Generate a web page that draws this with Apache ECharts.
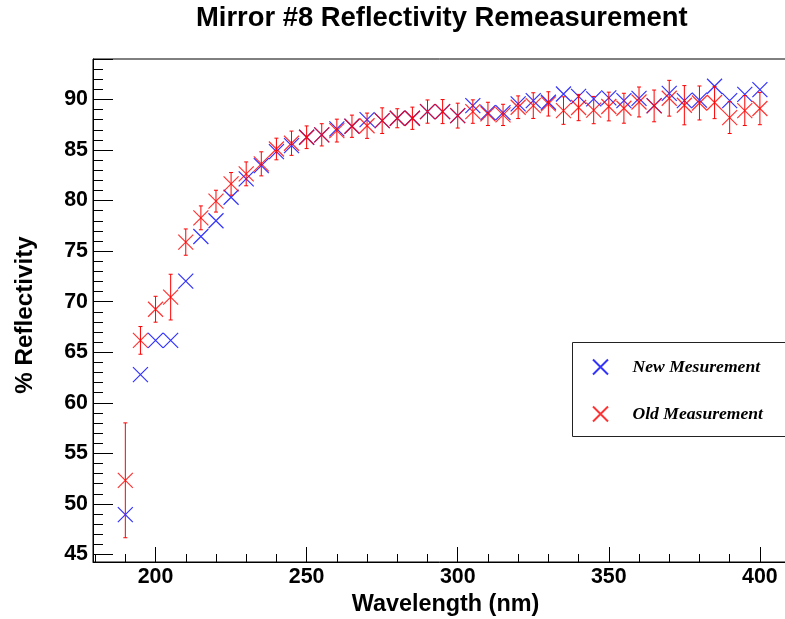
<!DOCTYPE html>
<html>
<head>
<meta charset="utf-8">
<script src="https://cdn.jsdelivr.net/npm/echarts@6/dist/echarts.min.js"></script>
<style>
  html, body { margin: 0; padding: 0; background: #fff; }
  #chart { width: 785px; height: 619px; }
</style>
</head>
<body>
<div id="chart"></div>
<script>
// wavelength in nm, one point every 5 nm
const wavelength = [190, 195, 200, 205, 210, 215, 220, 225, 230, 235, 240, 245, 250, 255, 260, 265, 270, 275, 280, 285, 290, 295,
  300, 305, 310, 315, 320, 325, 330, 335, 340, 345, 350, 355, 360, 365, 370, 375, 380, 385, 390, 395, 400];

// new measurement (blue)
const newRefl = [48.94, 62.78, 66.17, 66.17, 72.03, 76.44, 78.0, 80.33, 82.14, 83.46, 84.84, 85.43, 86.26, 86.5, 87.09, 87.35, 88.0, 87.9, 88.14, 88.14, 88.8, 88.8,
  88.4, 89.39, 88.7, 88.7, 89.56, 89.88, 89.72, 90.54, 90.3, 90.05, 90.15, 89.88, 90.1, 89.39, 90.6, 89.88, 89.93, 91.3, 89.88, 90.5, 90.97];

// old measurement (red) and its errors
const oldRefl = [52.33, 66.17, 69.25, 70.45, 75.89, 78.29, 79.94, 81.65, 82.64, 83.63, 85.1, 85.67, 86.26, 86.5, 86.92, 87.35, 87.4, 87.9, 88.14, 88.14, 88.8, 88.8,
  88.4, 88.8, 88.57, 88.47, 89.23, 89.39, 89.56, 88.9, 89.2, 88.95, 89.3, 89.13, 89.75, 89.36, 90.12, 89.43, 89.65, 89.7, 88.2, 88.9, 89.1];
const oldErr = [5.68, 1.37, 1.28, 2.26, 1.3, 1.18, 1.08, 1.12, 1.18, 1.19, 1.07, 1.2, 1.12, 1.1, 1.13, 1.1, 1.25, 1.27, 0.94, 1.1, 1.15, 1.19,
  1.23, 1.16, 1.15, 1.05, 1.12, 1.27, 1.2, 1.36, 1.3, 1.35, 1.42, 1.48, 1.48, 1.57, 1.77, 1.94, 1.68, 1.6, 1.57, 1.48, 1.6];

const seriesNames = ["New Mesurement", "Old Measurement"];

const chart = echarts.init(document.getElementById("chart"));

const crossPath = "path://M0,0L10,10M0,10L10,0";
const axisFont = { fontFamily: "Liberation Sans", fontWeight: "bold", color: "#000" };

// vertical error bar with small caps
const renderErrorBar = (params, api) => {
  const x = api.value(0);
  const y = api.value(1);
  const e = api.value(2);
  const top = api.coord([x, y + e]);
  const bot = api.coord([x, y - e]);
  const cap = 2;
  const style = { stroke: "#ff0000", lineWidth: 1 };
  return {
    type: "group",
    children: [
      { type: "line", shape: { x1: top[0], y1: top[1], x2: bot[0], y2: bot[1] }, style },
      { type: "line", shape: { x1: top[0] - cap, y1: top[1], x2: top[0] + cap, y2: top[1] }, style },
      { type: "line", shape: { x1: bot[0] - cap, y1: bot[1], x2: bot[0] + cap, y2: bot[1] }, style },
    ],
  };
};

const option = {
  animation: false,
  backgroundColor: "#fff",
  title: {
    text: "Mirror #8 Reflectivity Remeasurement",
    left: 191,
    top: 0,
    textStyle: { ...axisFont, fontSize: 27.4 },
  },
  // legend frame drawn separately so the icon can sit inside it
  graphic: [
    {
      type: "rect",
      shape: { x: 572.5, y: 342.5, width: 240, height: 94 },
      style: { fill: "#fff", stroke: "#222", lineWidth: 1 },
      z: 5,
    },
  ],
  legend: {
    data: seriesNames,
    orient: "vertical",
    left: 592,
    top: 357,
    padding: 0,
    itemGap: 27,
    itemWidth: 54,
    itemHeight: 15,
    z: 6,
    textStyle: {
      fontFamily: "Liberation Serif",
      fontStyle: "italic",
      fontWeight: "bold",
      fontSize: 17.6,
      lineHeight: 20,
      color: "#000",
    },
  },
  grid: {
    left: 93,
    top: 59,
    right: -3,
    bottom: 57,
    outerBoundsMode: "none",
    show: true,
    borderColor: "#000",
    borderWidth: 1,
  },
  xAxis: {
    type: "value",
    min: 179.3,
    max: 409.3,
    splitNumber: 5,
    minInterval: 50,
    maxInterval: 50,
    name: "Wavelength (nm)",
    nameLocation: "middle",
    nameGap: 31,
    nameTextStyle: { ...axisFont, fontSize: 23.4, padding: [0, 0, 0, 10] },
    splitLine: { show: false },
    axisLine: { onZero: false, lineStyle: { color: "#000", width: 1 } },
    axisTick: { inside: true, length: 15, lineStyle: { color: "#000" } },
    minorTick: { show: true, splitNumber: 5, length: 8, lineStyle: { color: "#000" } },
    axisLabel: { ...axisFont, fontSize: 21.4, margin: 5, showMinLabel: false, showMaxLabel: false },
  },
  yAxis: {
    type: "value",
    min: 44.25,
    max: 94,
    splitNumber: 10,
    minInterval: 5,
    maxInterval: 5,
    name: "% Reflectivity",
    nameLocation: "middle",
    nameGap: 56,
    nameRotate: 90,
    nameTextStyle: { ...axisFont, fontSize: 24.2, padding: [0, 9, 0, 0] },
    splitLine: { show: false },
    axisLine: { onZero: false, lineStyle: { color: "#000", width: 1 } },
    axisTick: { inside: true, length: 20, lineStyle: { color: "#000" } },
    minorTick: { show: true, splitNumber: 5, length: 10, lineStyle: { color: "#000" } },
    axisLabel: { ...axisFont, fontSize: 21.4, margin: 5, padding: [4, 0, 0, 0], showMinLabel: false, showMaxLabel: false },
  },
  series: [
    {
      name: seriesNames[0],
      type: "scatter",
      symbol: crossPath,
      symbolSize: 15,
      data: wavelength.map((w, i) => [w, newRefl[i]]),
      itemStyle: { color: "rgba(0,0,0,0)", borderColor: "#0000ff", borderWidth: 1.2 },
      emphasis: { disabled: true },
      z: 2,
    },
    {
      name: "Old errors",
      type: "custom",
      renderItem: renderErrorBar,
      data: wavelength.map((w, i) => [w, oldRefl[i], oldErr[i]]),
      encode: { x: 0, y: 1 },
      z: 3,
    },
    {
      name: seriesNames[1],
      type: "scatter",
      symbol: crossPath,
      symbolSize: 15,
      data: wavelength.map((w, i) => [w, oldRefl[i]]),
      itemStyle: { color: "rgba(0,0,0,0)", borderColor: "#ff0000", borderWidth: 1.2 },
      emphasis: { disabled: true },
      z: 4,
    },
  ],
};

chart.setOption(option);
</script>
</body>
</html>
